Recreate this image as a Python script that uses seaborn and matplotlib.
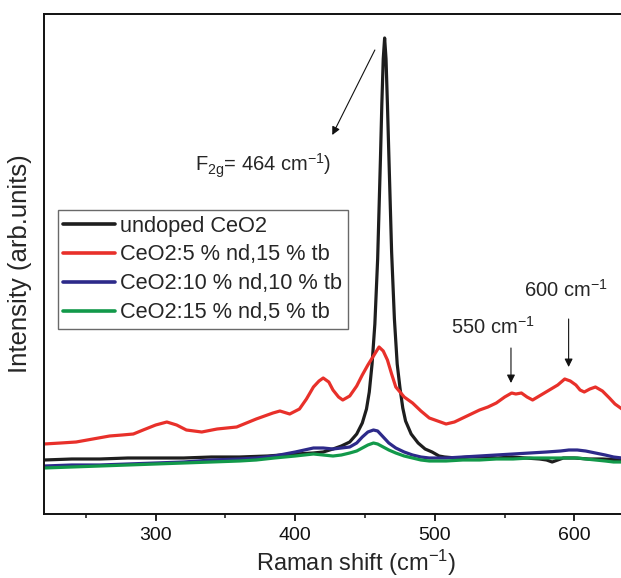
import numpy as np
import pandas as pd
import matplotlib
matplotlib.use("Agg")
import matplotlib.pyplot as plt
import seaborn as sns
from matplotlib.lines import Line2D

# ---------------- data ----------------
series_names = ["undoped CeO2", "CeO2:5 % nd,15 % tb", "CeO2:10 % nd,10 % tb", "CeO2:15 % nd,5 % tb"]
series_colors = ["#1e1e1e", "#e8302a", "#2d2a8a", "#12994a"]

undoped_x = [220, 240, 260, 280, 300, 320, 340, 360, 380, 400, 413, 420, 427, 433, 439, 444, 448, 451,
             453, 455, 457, 459, 461, 462, 463, 464, 465, 466, 467, 469, 471, 473, 475, 477, 479, 483,
             488, 493, 498, 503, 507, 515, 525, 535, 545, 555, 565, 575, 580, 584, 588, 592, 600, 610,
             620, 634]
undoped_y = [54, 55, 55, 56, 56, 56, 57, 57, 58, 60, 61, 62, 65, 68, 72, 80, 91, 105,
             122, 150, 190, 255, 355, 410, 455, 476, 455, 410, 360, 262, 195, 150, 126, 106, 93, 80,
             71, 65, 62, 58, 57, 56, 57, 57, 56, 57, 56, 55, 54, 52, 54, 56, 56, 55,
             55, 54]

nd5_x = [220, 232, 243, 255, 267, 276, 284, 291, 300, 308, 315, 322, 333, 344, 358, 372, 384, 389,
         396, 403, 408, 413, 417, 420, 424, 427, 431, 434, 439, 444, 448, 452, 456, 460, 463, 466,
         469, 472, 478, 484, 490, 496, 502, 508, 514, 520, 526, 532, 538, 544, 550, 555, 558, 562,
         566, 570, 576, 582, 588, 593, 597, 601, 604, 607, 611, 615, 620, 625, 629, 634]
nd5_y = [70, 71, 72, 75, 78, 79, 80, 84, 89, 92, 89, 84, 82, 85, 87, 95, 101, 103,
         100, 105, 115, 127, 133, 136, 132, 124, 117, 114, 118, 128, 139, 149, 158, 167, 163, 154,
         140, 127, 117, 111, 103, 96, 93, 90, 92, 96, 100, 104, 107, 111, 117, 121, 120, 121,
         117, 114, 119, 124, 129, 135, 133, 129, 124, 122, 125, 127, 123, 116, 110, 105]

nd10_x = [220, 240, 260, 280, 300, 320, 340, 360, 372, 385, 400, 413, 420, 427, 433, 439, 444, 448,
          452, 456, 459, 463, 467, 472, 478, 484, 490, 496, 508, 520, 532, 544, 556, 568, 580, 590,
          596, 602, 608, 615, 622, 628, 634]
nd10_y = [48, 49, 49, 50, 51, 52, 54, 55, 56, 58, 62, 66, 66, 65, 66, 67, 71, 77,
          82, 84, 83, 77, 71, 66, 62, 59, 57, 56, 56, 57, 58, 59, 60, 61, 62, 63,
          64, 64, 63, 61, 59, 57, 56]

nd15_x = [220, 240, 260, 280, 300, 320, 340, 360, 372, 385, 400, 413, 420, 427, 433, 439, 444, 448,
          452, 456, 459, 463, 467, 472, 478, 484, 490, 496, 508, 520, 532, 544, 556, 568, 580, 590,
          596, 602, 608, 615, 622, 628, 634]
nd15_y = [46, 47, 48, 49, 50, 51, 52, 53, 54, 56, 58, 60, 59, 58, 59, 61, 63, 66,
          69, 71, 70, 67, 64, 61, 58, 56, 54, 53, 53, 54, 54, 55, 55, 56, 56, 56,
          56, 56, 55, 54, 53, 52, 52]

x_ticks = [300, 400, 500, 600]
x_minor_ticks = [250, 350, 450, 550, 650]
x_label = "Raman shift (cm$^{-1}$)"
y_label = "Intensity (arb.units)"

frames = []
for name, xs, ys in zip(series_names,
                        [undoped_x, nd5_x, nd10_x, nd15_x],
                        [undoped_y, nd5_y, nd10_y, nd15_y]):
    frames.append(pd.DataFrame({"shift": xs, "intensity": ys, "sample": name}))
df = pd.concat(frames, ignore_index=True)

# ---------------- style ----------------
sns.set_style("ticks")
plt.rcParams["font.family"] = ["Liberation Sans", "DejaVu Sans"]
plt.rcParams["mathtext.fontset"] = "custom"
plt.rcParams["mathtext.rm"] = "Liberation Sans"
plt.rcParams["mathtext.it"] = "Liberation Sans:italic"
plt.rcParams["mathtext.bf"] = "Liberation Sans:bold"

fig = plt.figure(figsize=(6.21, 5.78), dpi=100)
# axes run past the right edge of the picture (right spine is cut off in the reference)
ax = fig.add_axes([44 / 621, 64 / 578, 625 / 621, 500.5 / 578])

palette = dict(zip(series_names, series_colors))
sns.lineplot(data=df, x="shift", y="intensity", hue="sample", hue_order=series_names,
             palette=palette, estimator=None, sort=True, linewidth=2.3, ax=ax, legend=False)

ax.set_xlim(220, 667.7)
ax.set_ylim(0, 500.5)
ax.set_xticks(x_ticks)
ax.set_xticks(x_minor_ticks, minor=True)
ax.set_yticks([])
ax.tick_params(axis="x", which="major", direction="out", length=5, width=1.3, labelsize=14, pad=4, colors="#111111")
ax.tick_params(axis="x", which="minor", direction="out", length=3, width=1.2)
for s in ax.spines.values():
    s.set_linewidth(1.4)
    s.set_color("#111111")

ax.set_xlabel(x_label, fontsize=17, labelpad=3)
ax.set_ylabel(y_label, fontsize=18.5)
# y label sits just left of the spine, centred on the axes height
ax.yaxis.set_label_coords(-12 / 625, 0.5)

# legend
handles = [Line2D([0], [0], color=c, lw=2.6) for c in series_colors]
leg = ax.legend(handles, series_names, loc="upper left", bbox_to_anchor=(14 / 625, 0.607),
                borderaxespad=0, fontsize=15.7, handlelength=2.35, handletextpad=0.25,
                labelspacing=0.36, borderpad=0.25, fancybox=False, frameon=True)
leg.get_frame().set_edgecolor("#444444")
leg.get_frame().set_linewidth(1.0)

# annotations
arrow_kw = dict(arrowstyle="-|>", color="#111111", lw=0.8, mutation_scale=12, shrinkA=0, shrinkB=0)
ax.annotate("", xy=(426.5, 379), xytext=(457, 464), arrowprops=arrow_kw)
ax.text(328, 342, r"$\mathregular{F_{2g}}$= 464 cm$^{-1}$)", fontsize=14.5, va="baseline", ha="left")

ax.annotate("", xy=(554.5, 131), xytext=(554.5, 166), arrowprops=arrow_kw)
ax.text(511.5, 180, "550 cm$^{-1}$", fontsize=14.5, va="baseline", ha="left")

ax.annotate("", xy=(595.8, 147), xytext=(595.8, 195), arrowprops=arrow_kw)
ax.text(564, 217, "600 cm$^{-1}$", fontsize=14.5, va="baseline", ha="left")

fig.savefig("out.png", dpi=100)
